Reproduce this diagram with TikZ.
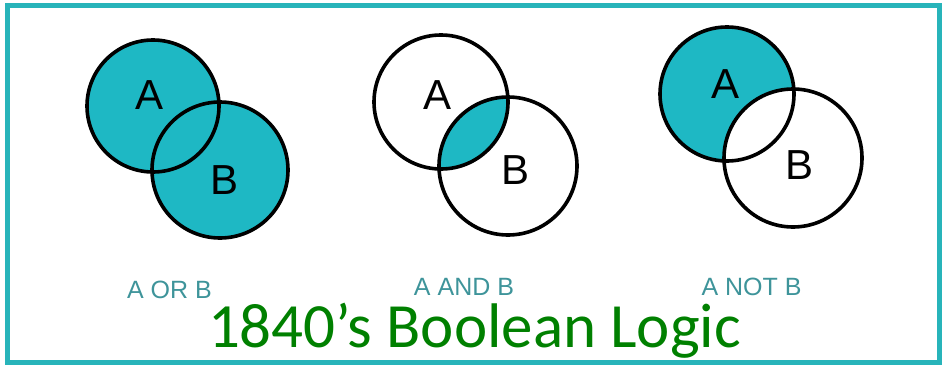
\documentclass[tikz,border=0pt]{standalone}
\usepackage{fontspec}
\setmainfont{Liberation Sans}
\newfontfamily\titlefont{Carlito}
\usetikzlibrary{positioning}
\definecolor{vennteal}{RGB}{30,184,196}
\definecolor{frameteal}{RGB}{40,180,186}
\definecolor{labelteal}{RGB}{62,148,154}
\definecolor{titlegreen}{RGB}{0,128,0}

\begin{document}
\begin{tikzpicture}[x=1pt, y=-1pt,
  ring/.style={draw=black, line width=3.6pt},
  letter/.style={font=\fontsize{42}{42}\selectfont, inner sep=0pt},
  caption/.style={font=\fontsize{25}{25}\selectfont, text=labelteal, inner sep=0pt}
]
\useasboundingbox (0,0) rectangle (942,364);
\draw[frameteal, line width=5pt] (7.5,5.5) rectangle (939.5,362);

% A OR B
\coordinate (orA) at (153,106);
\coordinate (orB) at (220,170);
\fill[vennteal] (orA) circle (66) (orB) circle (68);
\draw[ring] (orA) circle (66) (orB) circle (68);
\node[letter] (orAtxt) at (150,95) {A};
\node[letter] (orBtxt) at (225,180) {B};
\node[caption] (orcap) at (169.5,289.5) {A OR B};

% A AND B
\coordinate (andA) at (441,102);
\coordinate (andB) at (508,166);
\begin{scope}
  \clip (andA) circle (67);
  \fill[vennteal] (andB) circle (69);
\end{scope}
\draw[ring] (andA) circle (67) (andB) circle (69);
\node[letter] (andAtxt) at (438,95) {A};
\node[letter] (andBtxt) at (515,170) {B};
\node[caption] (andcap) at (464,287) {A AND B};

% A NOT B
\coordinate (notA) at (727,94);
\coordinate (notB) at (793,158);
\fill[vennteal] (notA) circle (67);
\fill[white] (notB) circle (69);
\draw[ring] (notA) circle (67) (notB) circle (69);
\node[letter] (notAtxt) at (725,84) {A};
\node[letter] (notBtxt) at (799,165) {B};
\node[caption] (notcap) at (751.5,287) {A NOT B};

\node[font=\titlefont\fontsize{63}{63}\selectfont, text=titlegreen,
      anchor=base, inner sep=0pt, text height=41pt, text depth=13pt]
  (title) at (474.5,347) {1840’s Boolean Logic};
\end{tikzpicture}
\end{document}
